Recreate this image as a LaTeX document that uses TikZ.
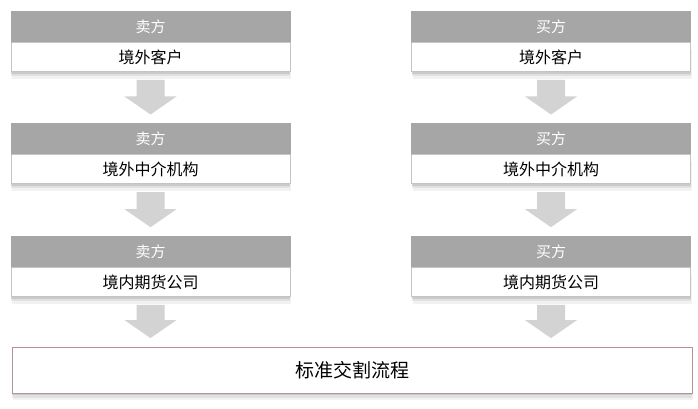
\documentclass[tikz,border=0pt]{standalone}
\usepackage{fontspec}
\newfontfamily\cjk{Noto Sans CJK SC}
\usetikzlibrary{positioning,calc,shadows}
\definecolor{headgray}{HTML}{A6A6A6}
\definecolor{linegray}{HTML}{C4C4C4}
\definecolor{arrowgray}{HTML}{D3D3D3}
\definecolor{rosegray}{HTML}{B49494}
\tikzset{
	soft shadow/.style={
		drop shadow={shadow xshift=0pt,shadow yshift=-2pt,opacity=0.10,fill=black},
		drop shadow={shadow xshift=0pt,shadow yshift=-4.5pt,opacity=0.07,fill=black},
		drop shadow={shadow xshift=1pt,shadow yshift=-7pt,opacity=0.05,fill=black}},
	head/.style={fill=headgray,draw=headgray,text=white,minimum width=279pt,minimum height=31pt,inner sep=0pt,font=\cjk\fontsize{15}{18}\selectfont},
	body/.style={fill=white,draw=linegray,line width=0.8pt,minimum width=279pt,minimum height=29pt,inner sep=0pt,soft shadow,font=\cjk\fontsize{16}{19}\selectfont},
	final/.style={fill=white,draw=rosegray,line width=0.8pt,minimum width=680pt,minimum height=46pt,inner sep=0pt,soft shadow,font=\cjk\fontsize{19}{22}\selectfont},
}
\newcommand{\plotPartyColumn}[3]
{
	\node[head] (#1-1h) at (#2,26.5) {#3};
	\node[body,below=0pt of #1-1h] (#1-1b) {境外客户};
	\node[head,below=51pt of #1-1b] (#1-2h) {#3};
	\node[body,below=0pt of #1-2h] (#1-2b) {境外中介机构};
	\node[head,below=51.5pt of #1-2b] (#1-3h) {#3};
	\node[body,below=0pt of #1-3h] (#1-3b) {境内期货公司};
}
\newcommand{\plotDownArrow}[2]
{
	\coordinate (top) at ($(#1)+(0,8)$);
	\coordinate (tip) at ($(#2)+(0,-8.5)$);
	\fill[arrowgray] ($(top)+(-14,0)$) -- ($(top)+(14,0)$) -- ($(tip)+(14,-18)$) -- ($(tip)+(26,-18)$)
		-- (tip) -- ($(tip)+(-26,-18)$) -- ($(tip)+(-14,-18)$) -- cycle;
}
\begin{document}
\begin{tikzpicture}[x=1pt,y=-1pt]
\useasboundingbox (0,0) rectangle (698,409);
\plotPartyColumn{L}{150.5}{卖方}
\plotPartyColumn{R}{551}{买方}

\node[final] (std) at (352,370) {标准交割流程};

\plotDownArrow{L-1b.south}{L-2h.north}
\plotDownArrow{L-2b.south}{L-3h.north}
\plotDownArrow{L-3b.south}{L-3b.south |- std.north}
\plotDownArrow{R-1b.south}{R-2h.north}
\plotDownArrow{R-2b.south}{R-3h.north}
\plotDownArrow{R-3b.south}{R-3b.south |- std.north}
\end{tikzpicture}
\end{document}
